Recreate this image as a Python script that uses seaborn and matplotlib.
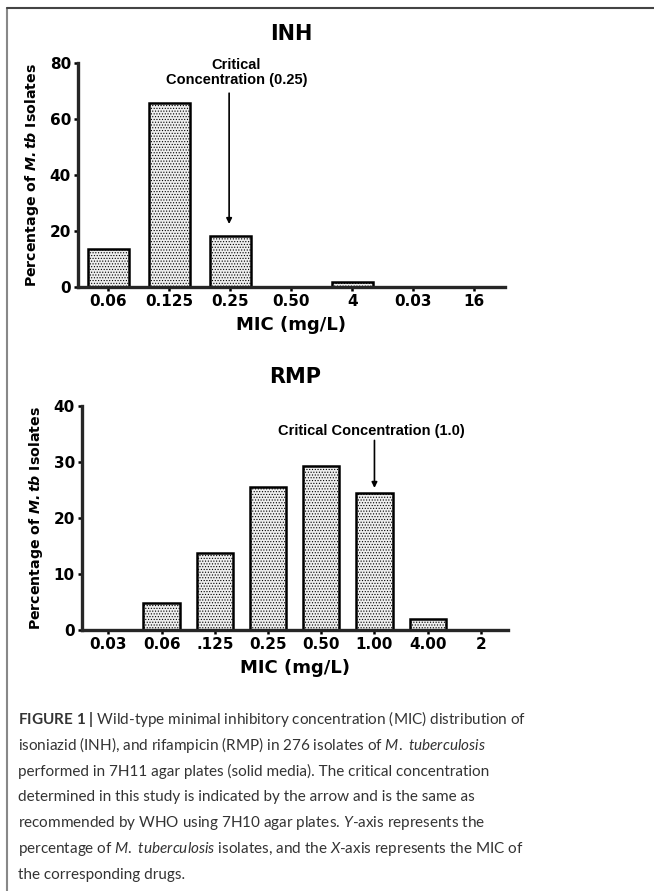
import numpy as np
import pandas as pd
import seaborn as sns
import matplotlib.pyplot as plt
from matplotlib.lines import Line2D

# INH data
inh_mic = ["0.06", "0.125", "0.25", "0.50", "4", "0.03", "16"]
inh_pct = [13.6, 65.7, 18.2, 0.0, 1.8, 0.0, 0.0]

# RMP data
rmp_mic = ["0.03", "0.06", ".125", "0.25", "0.50", "1.00", "4.00", "2"]
rmp_pct = [0.0, 4.8, 13.7, 25.5, 29.3, 24.5, 2.0, 0.0]

caption = [
    r"$\mathbf{FIGURE\ 1\ |}$ Wild-type minimal inhibitory concentration (MIC) distribution of",
    r"isoniazid (INH), and rifampicin (RMP) in 276 isolates of $\mathit{M{.}\ tuberculosis}$",
    "performed in 7H11 agar plates (solid media). The critical concentration",
    "determined in this study is indicated by the arrow and is the same as",
    r"recommended by WHO using 7H10 agar plates. $\mathit{Y}$-axis represents the",
    r"percentage of $\mathit{M{.}\ tuberculosis}$ isolates, and the $\mathit{X}$-axis represents the MIC of",
    "the corresponding drugs.",
]

sns.set_theme(style="ticks")
plt.rcParams["font.family"] = ["DejaVu Sans"]
plt.rcParams["text.color"] = "black"
plt.rcParams["axes.labelcolor"] = "black"
plt.rcParams["mathtext.fontset"] = "custom"
plt.rcParams["mathtext.rm"] = "Lato"
plt.rcParams["mathtext.it"] = "Lato:italic"
plt.rcParams["mathtext.bf"] = "Lato:bold"
plt.rcParams["mathtext.bfit"] = "DejaVu Sans:bold:italic"
plt.rcParams["hatch.color"] = "#d6d6d6"
plt.rcParams["hatch.linewidth"] = 0.5

fig = plt.figure(figsize=(6.54, 8.91), dpi=100)

ax1 = fig.add_axes([0.119, 0.678, 0.653, 0.251])
ax2 = fig.add_axes([0.125, 0.293, 0.651, 0.251])


def draw_panel(ax, mic, pct, title, ymax, ystep):
    df = pd.DataFrame({"MIC": mic, "Pct": pct})
    sns.barplot(data=df, x="MIC", y="Pct", ax=ax, color="#eeeeee",
                edgecolor="black", linewidth=1.8, width=0.68,
                saturation=1, order=mic)
    for p in ax.patches:
        p.set_hatch("......")
    ax.set_xlim(-0.5, len(mic) - 0.5)
    ax.set_ylim(0, ymax)
    ax.set_yticks(np.arange(0, ymax + 1, ystep))
    for s in ["top", "right"]:
        ax.spines[s].set_visible(False)
    ax.spines["left"].set_linewidth(2.4)
    ax.spines["bottom"].set_linewidth(2.4)
    ax.tick_params(axis="both", width=1.8, length=3, pad=2, colors="black",
                   labelsize=11)
    for lab in ax.get_xticklabels() + ax.get_yticklabels():
        lab.set_fontweight("bold")
    ax.set_xlabel("MIC (mg/L)", fontsize=13, fontweight="bold", labelpad=5)
    ax.set_ylabel(r"Percentage of $\mathbfit{M{.}tb}$ Isolates", fontsize=10.2,
                  fontweight="bold", labelpad=6)
    ax.set_title(title, fontsize=15, fontweight="bold", pad=17, color="black")
    ax.set_facecolor("white")


draw_panel(ax1, inh_mic, inh_pct, "INH", 80, 20)
draw_panel(ax2, rmp_mic, rmp_pct, "RMP", 40, 10)

# critical concentration arrows
ax1.text(2.1, 76.6, "Critical\nConcentration (0.25)", ha="center", va="center",
         fontsize=10.5, fontweight="bold", family="Liberation Sans",
         linespacing=1.05)
ax1.annotate("", xy=(1.98, 22.5), xytext=(1.98, 69.3),
             arrowprops=dict(arrowstyle="-|>", color="black", lw=1.2,
                             mutation_scale=8, shrinkA=0, shrinkB=0))
ax2.text(4.95, 35.5, "Critical Concentration (1.0)", ha="center", va="center",
         fontsize=10.5, fontweight="bold", family="Liberation Sans")
ax2.annotate("", xy=(5.0, 25.4), xytext=(5.0, 33.9),
             arrowprops=dict(arrowstyle="-|>", color="black", lw=1.2,
                             mutation_scale=8, shrinkA=0, shrinkB=0))

# caption, sized so the first line roughly spans the reference width
cap_texts = []
for i, line in enumerate(caption):
    t = fig.text(18 / 654, 1 - (719 + 26 * i) / 891, line, fontsize=12,
                 family="Lato", color="#333333", va="center")
    cap_texts.append(t)
fig.canvas.draw()
r = fig.canvas.get_renderer()
w = cap_texts[0].get_window_extent(r).width
for t in cap_texts:
    t.set_fontsize(12 * 505 / w)

# frame
fig.add_artist(Line2D([7 / 654, 7 / 654], [0, 1 - 8 / 891], color="#888888",
                      lw=1.5, transform=fig.transFigure))
fig.add_artist(Line2D([7 / 654, 1], [1 - 8 / 891, 1 - 8 / 891], color="#444444",
                      lw=1.5, transform=fig.transFigure))

fig.savefig("out.png", dpi=100, facecolor="white")
